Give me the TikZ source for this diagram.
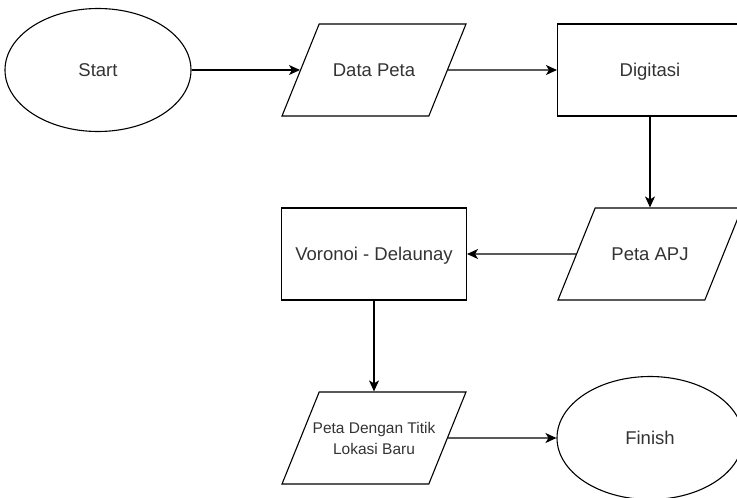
\documentclass[tikz,border=0pt]{standalone}
\usepackage{fontspec}
\setmainfont{Liberation Sans}
\usetikzlibrary{arrows.meta,positioning,shapes.geometric}

\begin{document}
\begin{tikzpicture}[
  font=\fontsize{18.5}{21}\selectfont,
  node distance=184pt and 276pt, on grid,
  line/.style={-{Stealth[length=11pt,width=10pt,inset=3pt]},line width=1.1pt},
  term/.style={ellipse, draw, line width=1.1pt, text=black!80, text height=13.5pt, text depth=0pt,
    minimum width=186pt, minimum height=123pt},
  proc/.style={rectangle, draw, line width=1.1pt, text=black!80, text height=13.5pt, text depth=0pt,
    minimum width=185pt, minimum height=92pt},
  io/.style={trapezium, trapezium left angle=68, trapezium right angle=112, trapezium stretches body=true,
    draw, line width=1.1pt, text=black!80, align=center, inner xsep=0pt, inner ysep=39.25pt,
    text height=13.5pt, text depth=0pt, minimum width=184pt}
]
\useasboundingbox (0,0) rectangle (737pt,-498pt);

% Nodes
\node[term] (start) at (98pt,-70pt) {Start};
\node[io, right=of start] (datapeta) {Data Peta};
\node[proc, right=of datapeta] (digitasi) {Digitasi};
\node[io, below=of digitasi] (petaapj) {Peta APJ};
\node[proc, below=of datapeta] (voronoi) {Voronoi - Delaunay};
\node[io, below=of voronoi, font=\fontsize{15.5}{21}\selectfont, text height=, text depth=,
  inner xsep=-11pt, inner ysep=29.85pt] (petabaru) {Peta Dengan Titik\\Lokasi Baru};
\node[term, below=of petaapj] (finish) {Finish};

% Arrows
\draw[line] (start) -- (datapeta);
\draw[line] (datapeta) -- (digitasi);
\draw[line] (digitasi) -- (petaapj);
\draw[line] (petaapj) -- (voronoi);
\draw[line] (voronoi) -- (petabaru);
\draw[line] (petabaru) -- (finish);

\end{tikzpicture}
\end{document}
